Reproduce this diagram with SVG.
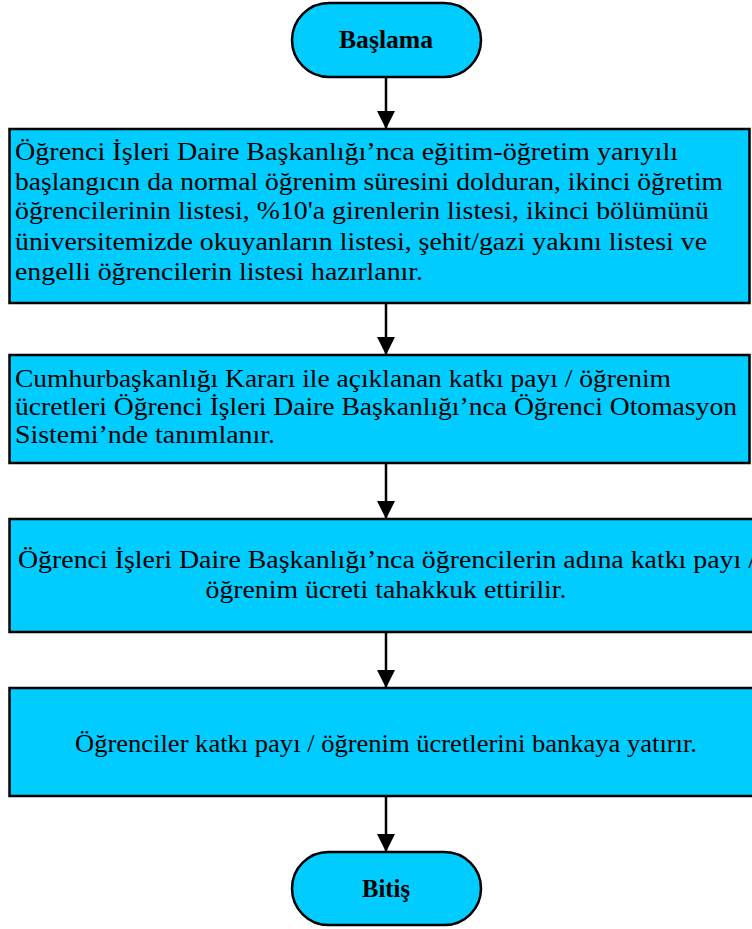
<svg xmlns="http://www.w3.org/2000/svg" width="752" height="929" viewBox="0 0 752 929">
<style>
.box{fill:#00CCFF;stroke:#000;stroke-width:2.5}
.t{font-family:"Liberation Serif","Times New Roman",serif;font-size:25.5px;fill:#000}
.b{font-family:"Liberation Serif","Times New Roman",serif;font-size:26px;font-weight:bold;fill:#000;text-anchor:middle}
.c{text-anchor:middle}
.ln{stroke:#000;stroke-width:2.5;fill:none}
</style>
<defs>
<marker id="ah" viewBox="0 0 18 18" refX="18" refY="9" markerWidth="18" markerHeight="18" markerUnits="userSpaceOnUse" orient="auto">
<path d="M0,0 L18,9 L0,18 Z" fill="#000"/>
</marker>
</defs>
<g id="connectors">
<line class="ln" x1="386" y1="77" x2="386" y2="129" marker-end="url(#ah)"/>
<line class="ln" x1="386" y1="303" x2="386" y2="355" marker-end="url(#ah)"/>
<line class="ln" x1="386" y1="463" x2="386" y2="519" marker-end="url(#ah)"/>
<line class="ln" x1="386" y1="632" x2="386" y2="688" marker-end="url(#ah)"/>
<line class="ln" x1="386" y1="796" x2="386" y2="852" marker-end="url(#ah)"/>
</g>
<g id="start">
<rect class="box" x="292" y="3" width="189" height="74" rx="37" ry="37"/>
<text class="b" x="386" y="48" textLength="94" lengthAdjust="spacingAndGlyphs">Başlama</text>
</g>
<g id="step1">
<rect class="box" x="9.5" y="129" width="740" height="174"/>
<text class="t" x="15" y="160" textLength="663" lengthAdjust="spacingAndGlyphs">Öğrenci  İşleri Daire Başkanlığı’nca eğitim-öğretim yarıyılı</text>
<text class="t" x="15" y="190" textLength="708" lengthAdjust="spacingAndGlyphs">başlangıcın da normal öğrenim süresini dolduran, ikinci öğretim</text>
<text class="t" x="15" y="219" textLength="694" lengthAdjust="spacingAndGlyphs">öğrencilerinin listesi, %10'a girenlerin listesi, ikinci bölümünü</text>
<text class="t" x="15" y="250" textLength="692" lengthAdjust="spacingAndGlyphs">üniversitemizde okuyanların listesi, şehit/gazi yakını listesi ve</text>
<text class="t" x="15" y="280" textLength="408" lengthAdjust="spacingAndGlyphs">engelli öğrencilerin listesi hazırlanır.</text>
</g>
<g id="step2">
<rect class="box" x="9.5" y="355" width="740" height="108"/>
<text class="t" x="15" y="387" textLength="656" lengthAdjust="spacingAndGlyphs">Cumhurbaşkanlığı Kararı ile açıklanan katkı payı / öğrenim</text>
<text class="t" x="15" y="415" textLength="722" lengthAdjust="spacingAndGlyphs">ücretleri Öğrenci İşleri Daire Başkanlığı’nca Öğrenci Otomasyon</text>
<text class="t" x="15" y="443" textLength="260" lengthAdjust="spacingAndGlyphs">Sistemi’nde tanımlanır.</text>
</g>
<g id="step3">
<rect class="box" x="9.5" y="519" width="760" height="113"/>
<text class="t c" x="387" y="568" textLength="738" lengthAdjust="spacingAndGlyphs">Öğrenci İşleri Daire Başkanlığı’nca öğrencilerin adına katkı payı /</text>
<text class="t c" x="386" y="598" textLength="361" lengthAdjust="spacingAndGlyphs">öğrenim ücreti tahakkuk ettirilir.</text>
</g>
<g id="step4">
<rect class="box" x="9.5" y="688" width="760" height="108"/>
<text class="t c" x="386" y="752" textLength="622" lengthAdjust="spacingAndGlyphs">Öğrenciler katkı payı / öğrenim ücretlerini bankaya yatırır.</text>
</g>
<g id="end">
<rect class="box" x="292" y="852" width="189" height="73" rx="36.5" ry="36.5"/>
<text class="b" x="386" y="897" textLength="48" lengthAdjust="spacingAndGlyphs">Bitiş</text>
</g>
</svg>
